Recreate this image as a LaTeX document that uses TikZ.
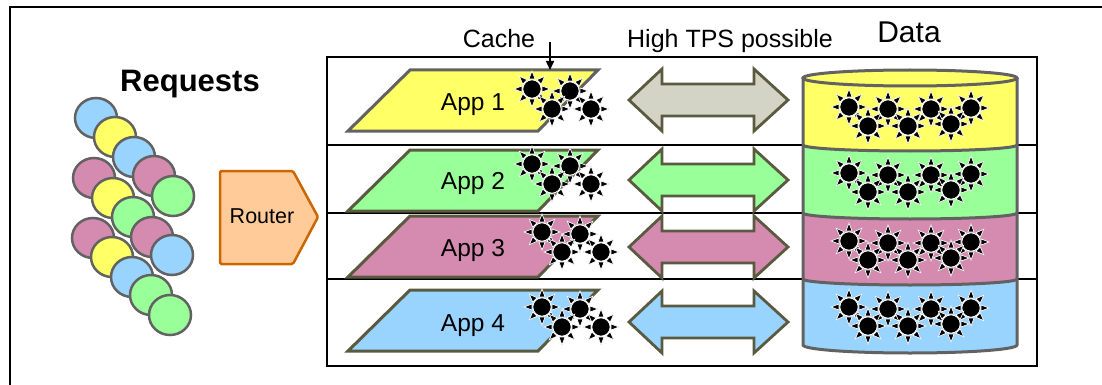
\documentclass[tikz,border=0pt]{standalone}
\usepackage{fontspec}
\setmainfont{Liberation Sans}
\usetikzlibrary{arrows.meta}

\definecolor{cYellow}{HTML}{FFFF66}
\definecolor{cGreen}{HTML}{99FF99}
\definecolor{cPink}{HTML}{D58BB0}
\definecolor{cBlue}{HTML}{99D4FF}
\definecolor{cGrayFill}{HTML}{D4D4C6}
\definecolor{cOlive}{HTML}{5A5A40}
\definecolor{cEdge}{HTML}{626262}
\definecolor{cPeach}{HTML}{FFCC99}
\definecolor{cOrange}{HTML}{CC6600}

\tikzset{
  frameline/.style={line width=1.4pt, black},
  rowline/.style={line width=1.4pt, black},
  req/.style={line width=2.5pt, draw=cEdge},
  appbox/.style={line width=3pt, draw=cOlive, line join=miter},
  bigarrow/.style={line width=2.8pt, draw=cOlive, line join=miter},
  dbedge/.style={line width=3pt, draw=cEdge},
  lbl/.style={inner sep=0pt, anchor=base},
  sun/.pic={
    \foreach \a in {0,45,...,315}{
      \filldraw[fill=black, draw=white, line width=0.7pt]
        (\a+17:10.5) -- (\a:18) -- (\a-17:10.5) -- cycle;
    }
    \filldraw[fill=black, draw=white, line width=0.9pt] (0,0) circle (9.2);
  },
  appsuns/.pic={
    \pic at (0,0) {sun};
    \pic at (38,2) {sun};
    \pic at (20,20) {sun};
    \pic at (59,20) {sun};
  },
  dbsuns/.pic={
    \pic at (0,0) {sun};
    \pic at (39,2) {sun};
    \pic at (82,2) {sun};
    \pic at (122,1) {sun};
    \pic at (19,19) {sun};
    \pic at (59,19) {sun};
    \pic at (102,17) {sun};
  },
}

\begin{document}
\begin{tikzpicture}[x=1pt, y=-1pt]
\useasboundingbox (0,0) rectangle (1102,385);

% outer frame (top and left edges)
\draw[frameline] (10,385) -- (10,7) -- (1102,7);

% table of rows
\draw[rowline] (327,57) rectangle (1037,366);
\draw[rowline] (327,145) -- (1037,145);
\draw[rowline] (327,213) -- (1037,213);
\draw[rowline] (327,279) -- (1037,279);

% ---------- requests ----------
\node[lbl, font=\fontsize{31}{31}\selectfont\bfseries] (requests) at (190,92) {Requests};
\foreach \px/\py/\c in {94/178/cPink, 113/198/cYellow, 133/217/cGreen, 152/237/cPink, 172/255/cBlue,
                        96/118/cBlue, 115/137/cYellow, 134/157/cBlue, 154/176/cPink, 173/196/cGreen,
                        93/238/cPink, 112/257/cYellow, 132/277/cBlue, 151/295/cGreen, 170/315/cGreen}{
  \filldraw[req, fill=\c] (\px,\py) ellipse [x radius=21, y radius=20];
}

% ---------- router ----------
\filldraw[line width=2.5pt, draw=cOrange, fill=cPeach, rounded corners=1.5pt]
  (220,171) -- (293,171) -- (318,217) -- (293,264) -- (220,264) -- cycle;
\node[lbl, font=\fontsize{21.5}{21.5}\selectfont] (router) at (262,223) {Router};

% ---------- applications ----------
\foreach \n/\t/\c/\e in {1/70/cYellow/cEdge, 2/150/cGreen/cOlive, 3/216/cPink/cOlive, 4/290/cBlue/cOlive}{
  \filldraw[appbox, draw=\e, fill=\c]
    (410,\t) -- (598,\t) -- (538,\t+61) -- (348,\t+61) -- cycle;
}
\node[lbl, font=\fontsize{24.5}{24.5}\selectfont] (app1) at (473,111) {App 1};
\node[lbl, font=\fontsize{24.5}{24.5}\selectfont] (app2) at (473,189) {App 2};
\node[lbl, font=\fontsize{24.5}{24.5}\selectfont] (app3) at (473,256) {App 3};
\node[lbl, font=\fontsize{24.5}{24.5}\selectfont] (app4) at (473,331) {App 4};

\pic at (532,89) {appsuns};
\pic at (532,164) {appsuns};
\pic at (542,232) {appsuns};
\pic at (542,307) {appsuns};

% cache label and pointer
\node[lbl, font=\fontsize{25}{25}\selectfont] (cache) at (499,48) {Cache};
\coordinate (cachetail) at (550,42);
\coordinate (cachetip) at (550,70);
\draw[line width=1.5pt, -{Triangle[length=9pt, width=8pt]}] (cachetail) -- (cachetip);

% ---------- throughput arrows ----------
\node[lbl, font=\fontsize{25}{25}\selectfont] (tps) at (730,48) {High TPS possible};
\foreach \cy/\c in {100/cGrayFill, 180/cGreen, 247/cPink, 322/cBlue}{
  \filldraw[bigarrow, fill=\c]
    (629,\cy) -- (662,\cy-31) -- (662,\cy-16) -- (754,\cy-16) -- (754,\cy-31)
    -- (788,\cy) -- (754,\cy+31) -- (754,\cy+16) -- (662,\cy+16) -- (662,\cy+31) -- cycle;
}

% ---------- data store ----------
\node[lbl, font=\fontsize{30}{30}\selectfont] (data) at (909,43) {Data};
% segment fills
\fill[cYellow] (910,78) ellipse [x radius=107, y radius=8];
\foreach \ta/\tb/\ra/\rb/\c in {78/145/8/6/cYellow, 145/213/6/6/cGreen, 213/279/6/6/cPink, 279/345/6/8/cBlue}{
  \fill[\c] (803,\ta) -- (803,\tb) arc [start angle=180, end angle=0, x radius=107, y radius=\rb]
    -- (1017,\ta) arc [start angle=0, end angle=180, x radius=107, y radius=\ra] -- cycle;
}
% outlines
\draw[dbedge] (910,78) ellipse [x radius=107, y radius=8];
\draw[dbedge] (803,78) -- (803,345) arc [start angle=180, end angle=0, x radius=107, y radius=8] -- (1017,78);
\foreach \yy in {145,213,279}{
  \draw[dbedge] (803,\yy) arc [start angle=180, end angle=0, x radius=107, y radius=6];
}
\pic at (849,107) {dbsuns};
\pic at (849,173) {dbsuns};
\pic at (849,241) {dbsuns};
\pic at (849,307) {dbsuns};
\end{tikzpicture}
\end{document}
